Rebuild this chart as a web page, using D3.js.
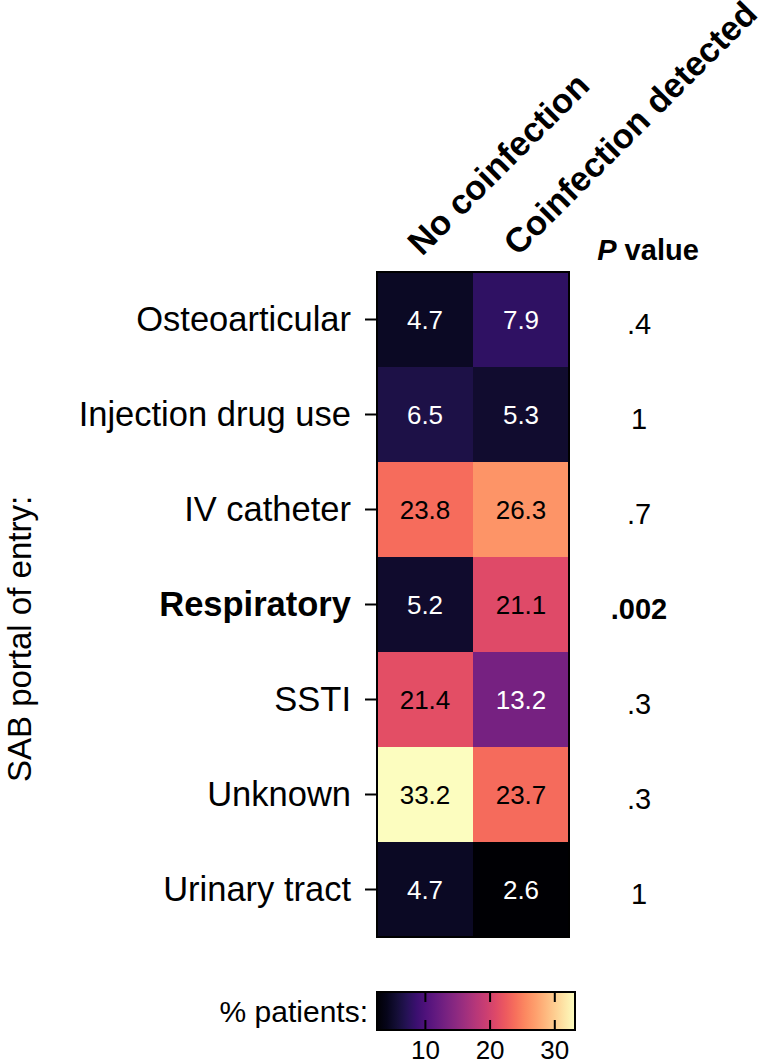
<!DOCTYPE html>
<html>
<head>
<meta charset="utf-8">
<script src="https://cdn.jsdelivr.net/npm/d3@7"></script>
<style>
  body { margin: 0; background: #fff; }
  text { font-family: "Liberation Sans", Arial, Helvetica, sans-serif; }
</style>
</head>
<body>
<script>
// data
var portals = ["Osteoarticular", "Injection drug use", "IV catheter", "Respiratory", "SSTI", "Unknown", "Urinary tract"];
var groups = ["No coinfection", "Coinfection detected"];
var noCoinfection = [4.7, 6.5, 23.8, 5.2, 21.4, 33.2, 4.7];
var coinfection = [7.9, 5.3, 26.3, 21.1, 13.2, 23.7, 2.6];
var pValues = [".4", "1", ".7", ".002", ".3", ".3", "1"];
var significant = ["Respiratory"];
var barTicks = [10, 20, 30];

var svg = d3.select("body").append("svg")
    .attr("width", 767)
    .attr("height", 1063);

// scales
var x = d3.scaleBand().domain(groups).range([377, 569]);
var y = d3.scaleBand().domain(portals).range([272, 937]);
var allVals = noCoinfection.concat(coinfection);
var color = d3.scaleSequential(d3.interpolateMagma)
    .domain([d3.min(allVals), d3.max(allVals)]);

// cells
var cells = [];
portals.forEach(function(p, i) {
    cells.push({row: p, col: groups[0], v: noCoinfection[i]});
    cells.push({row: p, col: groups[1], v: coinfection[i]});
});

svg.selectAll("rect.cell").data(cells).enter()
    .append("rect")
    .attr("class", "cell")
    .attr("x", function(d){ return x(d.col); })
    .attr("y", function(d){ return y(d.row); })
    .attr("width", x.bandwidth())
    .attr("height", y.bandwidth())
    .attr("fill", function(d){ return color(d.v); });

svg.selectAll("text.val").data(cells).enter()
    .append("text")
    .attr("class", "val")
    .attr("x", function(d){ return x(d.col) + x.bandwidth() / 2; })
    .attr("y", function(d){ return y(d.row) + y.bandwidth() / 2; })
    .attr("dy", "0.36em")
    .attr("text-anchor", "middle")
    .attr("font-size", 26)
    .attr("fill", function(d){ return (d.v - color.domain()[0]) / (color.domain()[1] - color.domain()[0]) < 0.5 ? "#fff" : "#000"; })
    .text(function(d){ return d.v.toFixed(1); });

// frame round the heatmap
svg.append("rect")
    .attr("x", 377).attr("y", 272)
    .attr("width", 192).attr("height", 665)
    .attr("fill", "none")
    .attr("stroke", "#000")
    .attr("stroke-width", 2);

// row axis
var yAxis = svg.append("g")
    .attr("transform", "translate(377,0)")
    .call(d3.axisLeft(y).tickSize(12).tickPadding(14));
yAxis.select(".domain").remove();
yAxis.selectAll(".tick line").attr("stroke-width", 2);
yAxis.selectAll(".tick text")
    .attr("font-size", 34.5)
    .attr("fill", "#000")
    .attr("font-family", "Liberation Sans, Arial, sans-serif")
    .attr("font-weight", function(d){ return significant.indexOf(d) >= 0 ? "bold" : "normal"; });

// y title
svg.append("text")
    .attr("transform", "translate(31,639) rotate(-90)")
    .attr("text-anchor", "middle")
    .attr("font-size", 33)
    .text("SAB portal of entry:");

// column headers
svg.selectAll("text.col").data(groups).enter()
    .append("text")
    .attr("class", "col")
    .attr("transform", function(d){ return "translate(" + (x(d) + x.bandwidth() / 2 - 3) + ",257) rotate(-45)"; })
    .attr("font-size", 34.5)
    .attr("font-weight", "bold")
    .text(function(d){ return d; });

// P values
var pHead = svg.append("text")
    .attr("x", 648).attr("y", 260)
    .attr("text-anchor", "middle")
    .attr("font-size", 29)
    .attr("font-weight", "bold");
pHead.append("tspan").attr("font-style", "italic").text("P");
pHead.append("tspan").text(" value");

svg.selectAll("text.p").data(portals).enter()
    .append("text")
    .attr("class", "p")
    .attr("x", 639)
    .attr("y", function(d){ return y(d) + y.bandwidth() / 2 + 4; })
    .attr("dy", "0.36em")
    .attr("text-anchor", "middle")
    .attr("font-size", 29)
    .attr("font-weight", function(d){ return significant.indexOf(d) >= 0 ? "bold" : "normal"; })
    .text(function(d, i){ return pValues[i]; });

// colour bar
var cb = d3.scaleLinear().domain(color.domain()).range([377, 575]);
var grad = svg.append("defs").append("linearGradient")
    .attr("id", "magma")
    .attr("x1", "0%").attr("x2", "100%");
d3.range(0, 1.0001, 0.05).forEach(function(t) {
    grad.append("stop")
        .attr("offset", (t * 100) + "%")
        .attr("stop-color", d3.interpolateMagma(t));
});
svg.append("rect")
    .attr("x", 377).attr("y", 992)
    .attr("width", 198).attr("height", 38)
    .attr("fill", "url(#magma)")
    .attr("stroke", "#000")
    .attr("stroke-width", 2);

var cbAxis = svg.append("g")
    .attr("transform", "translate(0,1030)")
    .call(d3.axisBottom(cb).tickValues(barTicks).tickSize(-10).tickPadding(11));
cbAxis.select(".domain").remove();
cbAxis.selectAll(".tick line").attr("stroke-width", 2);
cbAxis.selectAll(".tick text")
    .attr("font-size", 26)
    .attr("fill", "#000")
    .attr("font-family", "Liberation Sans, Arial, sans-serif");

var cbTop = svg.append("g")
    .attr("transform", "translate(0,992)")
    .call(d3.axisTop(cb).tickValues(barTicks).tickSize(-10).tickFormat(""));
cbTop.select(".domain").remove();
cbTop.selectAll(".tick line").attr("stroke-width", 2);

svg.append("text")
    .attr("x", 368).attr("y", 1011)
    .attr("dy", "0.36em")
    .attr("text-anchor", "end")
    .attr("font-size", 30)
    .text("% patients:");
</script>
</body>
</html>
